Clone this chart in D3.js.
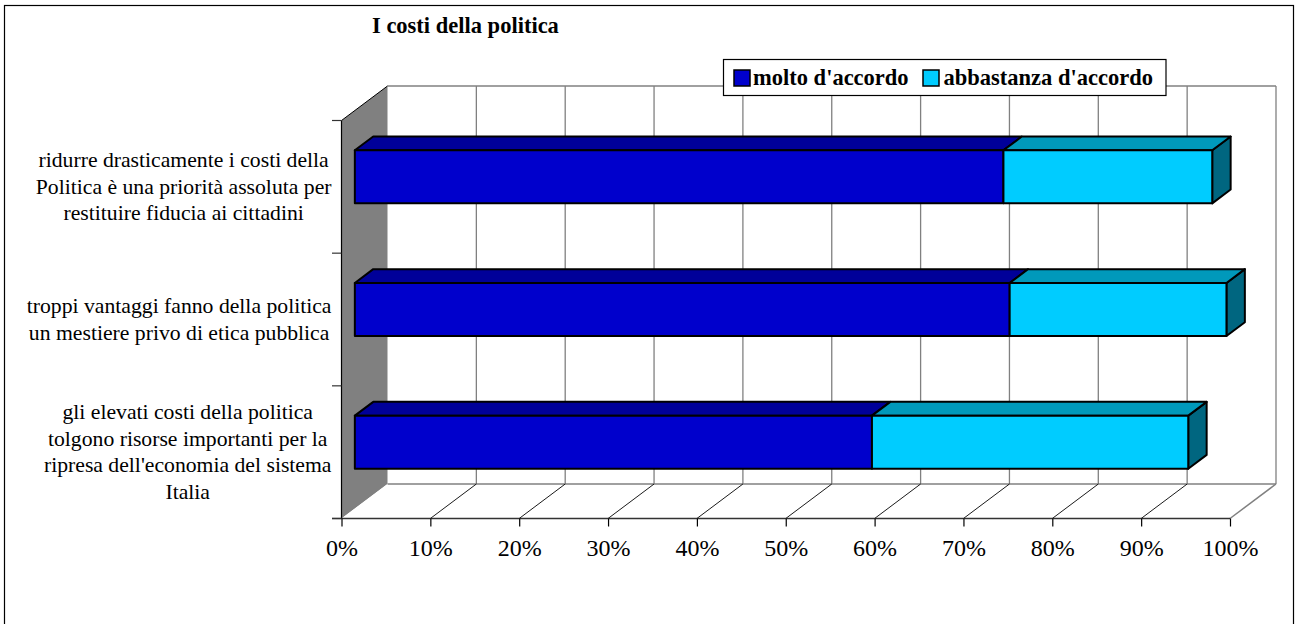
<!DOCTYPE html>
<html><head><meta charset="utf-8">
<script src="https://cdn.jsdelivr.net/npm/d3@7"></script>
<style>html,body{margin:0;padding:0;background:#fff;}svg{display:block;}</style>
</head><body>
<svg id="chart" width="1295" height="624"></svg>
<script>
const title = "I costi della politica";
const categories = [
  ["ridurre drasticamente i costi della", "Politica è una priorità assoluta per", "restituire fiducia ai cittadini"],
  ["troppi vantaggi fanno della politica", "un mestiere privo di etica pubblica"],
  ["gli elevati costi della politica", "tolgono risorse importanti per la", "ripresa dell'economia del sistema", "Italia"]
];
const seriesNames = ["molto d'accordo", "abbastanza d'accordo"];
const moltoValues = [73.0, 73.7, 58.2];
const abbastanzaValues = [23.5, 24.4, 35.6];
const xTicks = [0, 10, 20, 30, 40, 50, 60, 70, 80, 90, 100];
const tickLabels = ["0%", "10%", "20%", "30%", "40%", "50%", "60%", "70%", "80%", "90%", "100%"];

const svg = d3.select("#chart");
const FONT = "'Liberation Serif', 'Times New Roman', serif";

// geometry
const DX = 46, DY = 34.5;          // depth offset
const F0 = 0.29, F1 = 0.69;        // bar depth range
const x = d3.scaleLinear().domain([0, 100]).range([341.5, 1230]);
const catIdx = categories.map((d, i) => i);
const y = d3.scaleBand().domain(catIdx).range([120.5, 518.5]).paddingInner(0.6).paddingOuter(0.3);
const yTop = 120.5, yBot = 518.5;
const X0 = x(0), X1 = x(100);

// border
svg.append("rect").attr("x", 4.5).attr("y", 5.5).attr("width", 1289).attr("height", 650)
  .attr("fill", "#fff").attr("stroke", "#000").attr("stroke-width", 1.2);

// title
svg.append("text").attr("x", 372).attr("y", 33).attr("font-family", FONT)
  .attr("font-size", 22.5).attr("font-weight", "bold").text(title);

const pt = (px, py, f) => [px + f * DX, py - f * DY];
const line = d3.line();

// back wall
svg.append("path").attr("d", line([[X0 + DX, yTop - DY], [X1 + DX, yTop - DY], [X1 + DX, yBot - DY], [X0 + DX, yBot - DY]]) + "Z")
  .attr("fill", "#fff");
// left wall
svg.append("path").attr("d", line([[X0, yTop], [X0 + DX, yTop - DY], [X0 + DX, yBot - DY], [X0, yBot]]) + "Z")
  .attr("fill", "#808080");
// floor
svg.append("path").attr("d", line([[X0, yBot], [X0 + DX, yBot - DY], [X1 + DX, yBot - DY], [X1, yBot]]) + "Z")
  .attr("fill", "#fff");

// back gridlines
xTicks.forEach(t => {
  if (t === 0) return;
  svg.append("line").attr("x1", x(t) + DX).attr("x2", x(t) + DX)
    .attr("y1", yTop - DY).attr("y2", yBot - DY).attr("stroke", "#808080").attr("stroke-width", 1.3);
});
// back wall top edge
svg.append("line").attr("x1", X0 + DX).attr("x2", X1 + DX).attr("y1", yTop - DY).attr("y2", yTop - DY)
  .attr("stroke", "#808080").attr("stroke-width", 1.5);
// floor back edge & right edge
svg.append("line").attr("x1", X0 + DX).attr("x2", X1 + DX).attr("y1", yBot - DY).attr("y2", yBot - DY)
  .attr("stroke", "#808080").attr("stroke-width", 1.5);
svg.append("line").attr("x1", X1).attr("x2", X1 + DX).attr("y1", yBot).attr("y2", yBot - DY)
  .attr("stroke", "#808080").attr("stroke-width", 1.5);
// floor diagonals
xTicks.forEach(t => {
  if (t === 0 || t === 100) return;
  svg.append("line").attr("x1", x(t)).attr("x2", x(t) + DX).attr("y1", yBot).attr("y2", yBot - DY)
    .attr("stroke", "#000").attr("stroke-width", 0.9);
});
// left wall top edge
svg.append("line").attr("x1", X0).attr("x2", X0 + DX).attr("y1", yTop).attr("y2", yTop - DY)
  .attr("stroke", "#000").attr("stroke-width", 1);

// bars
const colors = {
  molto: { front: "#0000CC", top: "#000099", side: "#000066" },
  abb: { front: "#00CCFF", top: "#0099BB", side: "#006680" }
};
categories.forEach((c, i) => {
  const yt = y(i), yb = y(i) + y.bandwidth();
  const segs = [
    { v0: 0, v1: moltoValues[i], col: colors.molto },
    { v0: moltoValues[i], v1: moltoValues[i] + abbastanzaValues[i], col: colors.abb }
  ];
  segs.forEach((s, k) => {
    const a = x(s.v0), b = x(s.v1);
    const g = svg.append("g");
    const sty = p => p.attr("stroke", "#000").attr("stroke-width", 2).attr("stroke-linejoin", "round");
    // side
    if (k === segs.length - 1) {
      sty(g.append("path").attr("d", line([pt(b, yt, F0), pt(b, yt, F1), pt(b, yb, F1), pt(b, yb, F0)]) + "Z")
        .attr("fill", s.col.side));
    }
    // top
    sty(g.append("path").attr("d", line([pt(a, yt, F0), pt(b, yt, F0), pt(b, yt, F1), pt(a, yt, F1)]) + "Z")
      .attr("fill", s.col.top));
    // front
    sty(g.append("path").attr("d", line([pt(a, yt, F0), pt(b, yt, F0), pt(b, yb, F0), pt(a, yb, F0)]) + "Z")
      .attr("fill", s.col.front));
  });
});

// front axes
svg.append("line").attr("x1", X0).attr("x2", X0).attr("y1", yTop).attr("y2", yBot)
  .attr("stroke", "#000").attr("stroke-width", 1.2);
svg.append("line").attr("x1", 332).attr("x2", X1).attr("y1", yBot).attr("y2", yBot)
  .attr("stroke", "#333").attr("stroke-width", 1.4);
// left ticks at category boundaries
[0, 1, 2, 3].forEach(k => {
  const yy = yTop + k * y.step();
  svg.append("line").attr("x1", 332).attr("x2", X0).attr("y1", yy).attr("y2", yy)
    .attr("stroke", "#333").attr("stroke-width", 1.2);
});

// bottom axis with d3
const xAxis = d3.axisBottom(x).tickValues(xTicks).tickSize(8).tickFormat((d, i) => tickLabels[i]);
const ax = svg.append("g").attr("transform", `translate(0,${yBot})`).call(xAxis);
ax.select(".domain").remove();
ax.selectAll(".tick line").attr("stroke", "#000").attr("stroke-width", 1.2);
ax.selectAll(".tick text").attr("font-family", FONT).attr("font-size", 24).attr("fill", "#000")
  .attr("dy", null).attr("y", 37);

// category labels
categories.forEach((lines, i) => {
  const cy = yTop + (i + 0.5) * y.step();
  const g = svg.append("g");
  const texts = lines.map((l, j) => g.append("text").attr("font-family", FONT).attr("font-size", 21.7)
    .attr("y", cy + (j - (lines.length - 1) / 2) * 26.6 + 7).attr("text-anchor", "middle").text(l));
  const maxW = d3.max(texts, t => t.node().getComputedTextLength());
  texts.forEach(t => t.attr("x", 331.5 - maxW / 2));
});

// legend
const lg = svg.append("g");
lg.append("rect").attr("x", 723.5).attr("y", 59.5).attr("width", 442.5).attr("height", 36)
  .attr("fill", "#fff").attr("stroke", "#000").attr("stroke-width", 1.2);
const legItems = [
  { name: seriesNames[0], color: colors.molto.front, sx: 734, tx: 753 },
  { name: seriesNames[1], color: colors.abb.front, sx: 923, tx: 943.5 }
];
legItems.forEach(it => {
  lg.append("rect").attr("x", it.sx).attr("y", 70).attr("width", 16).attr("height", 16)
    .attr("fill", it.color).attr("stroke", "#000").attr("stroke-width", 1.5);
  lg.append("text").attr("x", it.tx).attr("y", 85).attr("font-family", FONT).attr("font-size", 22.5)
    .attr("font-weight", "bold").text(it.name);
});
</script>
</body></html>
